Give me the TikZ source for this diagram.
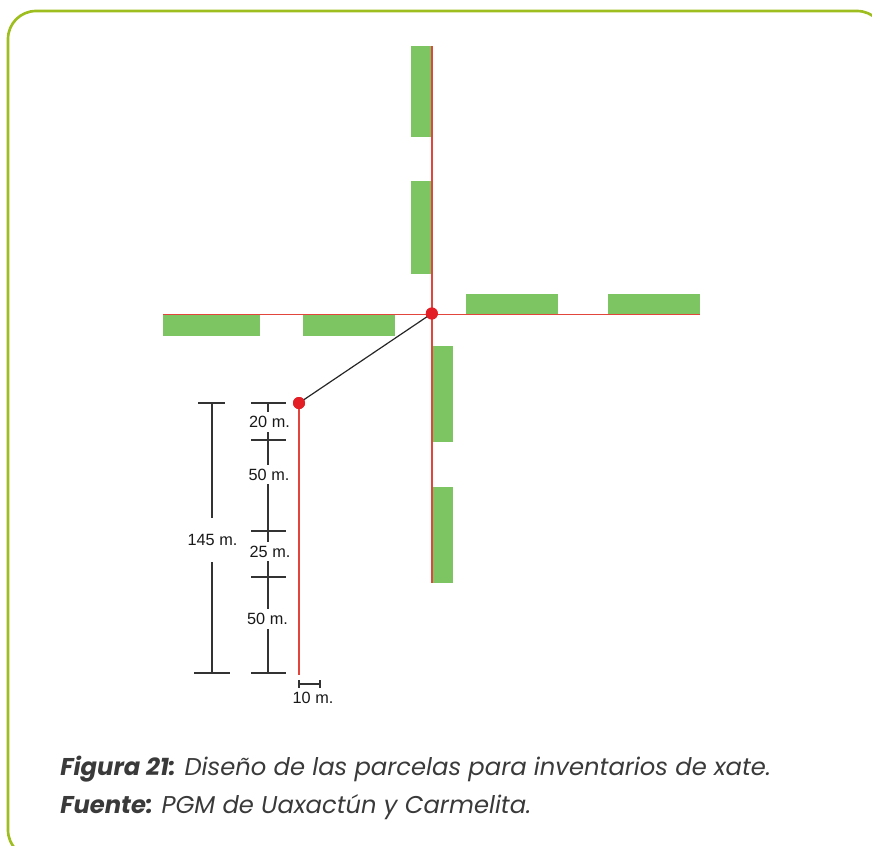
\documentclass[tikz,border=0pt]{standalone}
\usepackage{fontspec}
\newfontfamily\arialf{Liberation Sans}
\newfontfamily\capfont{Poppins}
\definecolor{frameg}{HTML}{9DBE1E}
\definecolor{plotg}{HTML}{7DC462}
\definecolor{redl}{HTML}{E2453C}
\definecolor{redd}{HTML}{E31E24}
\definecolor{dimc}{HTML}{333333}
\definecolor{capc}{HTML}{3A3A3A}
\tikzset{
  plotbox/.style={fill=plotg, draw=none},
  redline/.style={draw=redl, line width=0.9pt},
  reddot/.style={circle, fill=redd, draw=none, minimum size=9pt, inner sep=0pt},
  blackline/.style={draw=black!85, line width=0.9pt},
  dimline/.style={draw=dimc, line width=0.9pt},
  dimlabel/.style={font=\arialf\fontsize{12.2}{14}\selectfont, text=black!90, fill=white, inner xsep=1pt, inner ysep=3pt},
  captext/.style={font=\capfont\fontsize{18.2}{22}\selectfont, text=capc, anchor=base west, inner sep=0pt}
}
\begin{document}
\begin{tikzpicture}[x=0.75pt, y=-0.75pt]
\useasboundingbox (0,0) rectangle (872,846);
% frame
\draw[frameg, line width=2pt, rounded corners=21pt] (8,11) rectangle (885,858);

% plots
\path[plotbox] (411,46) rectangle (431.4,136.5);
\path[plotbox] (411,181) rectangle (431.4,273.5);
\path[plotbox] (163,315.2) rectangle (260,335.5);
\path[plotbox] (303,315.2) rectangle (395,335.5);
\path[plotbox] (466,294) rectangle (557.5,313.8);
\path[plotbox] (608,294) rectangle (700,313.8);
\path[plotbox] (432.6,346) rectangle (453,441.5);
\path[plotbox] (432.6,487) rectangle (453,582.5);

% cross lines
\coordinate (vtop) at (432,46);
\coordinate (vbot) at (432,582.5);
\coordinate (hleft) at (163,314.5);
\coordinate (hright) at (700,314.5);
\draw[redline] (vtop) -- (vbot);
\draw[redline] (hleft) -- (hright);

% start points
\node[reddot] (c) at (431.8,313.5) {};
\node[reddot] (d) at (299,403) {};
\coordinate (dend) at (299,675);
\draw[blackline] (c.center) -- (d.center);
\draw[redline] (d.center) -- (dend);
\node[reddot] at (c) {};
\node[reddot] at (d) {};

% 145 m dimension
\coordinate (t1) at (212,403);
\coordinate (t2) at (212,673);
\draw[dimline] (t1) -- (t2);
\draw[dimline] (198,403) -- (225,403);
\draw[dimline] (194,673) -- (230,673);
\node[dimlabel, inner ysep=12pt] (l145) at (212.5,540) {145 m.};

% segment dimension
\coordinate (s0) at (268,403);
\coordinate (s4) at (268,673);
\draw[dimline] (s0) -- (s4);
\foreach \yy in {403,440,531,577,673}
  \draw[dimline] (251,\yy) -- (285.5,\yy);
\node[dimlabel] (l20) at (269.5,422) {20 m.};
\node[dimlabel] (l50a) at (269,474.5) {50 m.};
\node[dimlabel] (l25) at (270,551.5) {25 m.};
\node[dimlabel] (l50b) at (267.5,619) {50 m.};

% 10 m scale
\coordinate (e1) at (299,684);
\coordinate (e2) at (320,684);
\draw[dimline] (e1) -- (e2);
\draw[dimline] (299,680) -- (299,688);
\draw[dimline] (320,680) -- (320,688);
\node[dimlabel, fill=none] (l10) at (313,698) {10 m.};

% caption
\node[captext] (cap1) at (60,775) {\textbf{\textit{Figura 21:}} \textit{Diseño de las parcelas para inventarios de xate.}};
\node[captext] (cap2) at (60,813) {\textbf{\textit{Fuente:}} \textit{PGM de Uaxactún y Carmelita.}};
\end{tikzpicture}
\end{document}
